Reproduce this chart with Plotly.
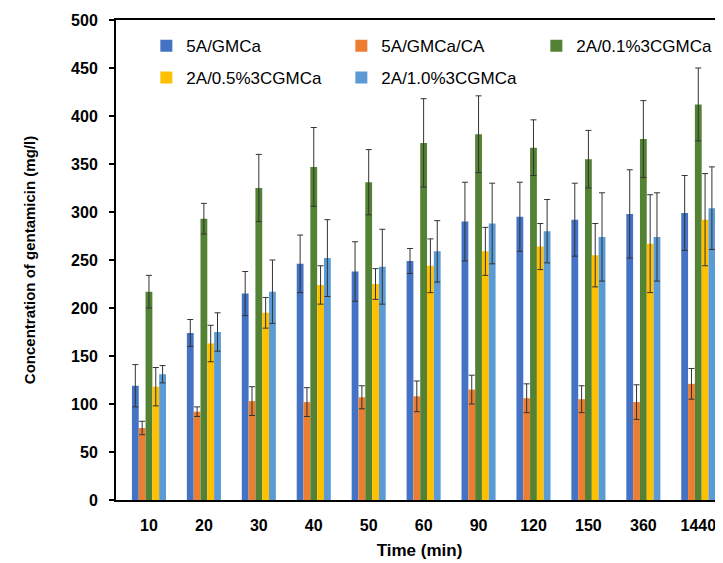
import plotly.graph_objects as go

times = ["10", "20", "30", "40", "50", "60", "90", "120", "150", "360", "1440"]

series_names = ["5A/GMCa", "5A/GMCa/CA", "2A/0.1%3CGMCa", "2A/0.5%3CGMCa", "2A/1.0%3CGMCa"]

gmca_5a = [119, 174, 215, 246, 238, 249, 290, 295, 292, 298, 299]
gmca_5a_err = [22, 14, 23, 30, 31, 13, 41, 36, 38, 46, 39]

gmca_ca_5a = [75, 92, 103, 102, 107, 108, 115, 106, 105, 102, 121]
gmca_ca_5a_err = [7, 5, 15, 15, 12, 16, 15, 15, 14, 18, 16]

cg01_2a = [217, 293, 325, 347, 331, 372, 381, 367, 355, 376, 412]
cg01_2a_err = [17, 16, 35, 41, 34, 46, 40, 29, 30, 40, 38]

cg05_2a = [118, 163, 195, 224, 225, 244, 259, 264, 255, 267, 292]
cg05_2a_err = [20, 19, 16, 20, 16, 28, 25, 24, 33, 51, 48]

cg10_2a = [131, 175, 217, 252, 243, 259, 288, 280, 274, 274, 304]
cg10_2a_err = [9, 20, 33, 40, 39, 32, 42, 33, 46, 46, 43]

values = [gmca_5a, gmca_ca_5a, cg01_2a, cg05_2a, cg10_2a]
errors = [gmca_5a_err, gmca_ca_5a_err, cg01_2a_err, cg05_2a_err, cg10_2a_err]
colors = ["#4472C4", "#ED7D31", "#548235", "#FFC000", "#5B9BD5"]
legend_ids = ["legend", "legend", "legend", "legend2", "legend2"]

y_ticks = [0, 50, 100, 150, 200, 250, 300, 350, 400, 450, 500]

FONT = "Liberation Sans, Arial, sans-serif"

fig = go.Figure()
for name, v, e, c, lg in zip(series_names, values, errors, colors, legend_ids):
    fig.add_trace(go.Bar(
        x=times, y=v, name=name, marker=dict(color=c, line=dict(width=0)),
        error_y=dict(type="data", array=e, symmetric=True, color="#333333",
                     thickness=1, width=3),
        legend=lg,
    ))

legend_common = dict(orientation="h", xanchor="left", yanchor="top",
                     entrywidth=150, entrywidthmode="pixels",
                     font=dict(size=17, family=FONT, color="black"),
                     bgcolor="rgba(0,0,0,0)")

fig.update_layout(
    width=715, height=555,
    margin=dict(l=108, r=0, t=12, b=63, autoexpand=False),
    paper_bgcolor="white", plot_bgcolor="white",
    barmode="group", bargap=0.38, bargroupgap=0,
    font=dict(family=FONT, color="black"),
    legend=dict(x=0.05, y=0.983, **legend_common),
    legend2=dict(x=0.05, y=0.917, **legend_common),
    xaxis=dict(
        type="category", range=[-0.6, 10.45],
        showline=True, linecolor="black", linewidth=2, mirror=True,
        ticks="", showgrid=False, ticklabelstandoff=10,
        tickfont=dict(size=16, family=FONT, color="black", weight="bold"),
        title=dict(text="<b>Time (min)</b>", font=dict(size=17, family=FONT), standoff=11),
    ),
    yaxis=dict(
        range=[0, 500], tickvals=y_ticks, ticktext=[str(t) for t in y_ticks],
        showline=True, linecolor="black", linewidth=2,
        ticks="outside", ticklen=5, tickwidth=1.5, tickcolor="black",
        showgrid=False, zeroline=False, ticklabelstandoff=8,
        tickfont=dict(size=16, family=FONT, color="black", weight="bold"),
        title=dict(text="<b>Concentration of gentamicin (mg/l)</b>", font=dict(size=15, family=FONT), standoff=32),
    ),
)

fig.write_html("out.html")
